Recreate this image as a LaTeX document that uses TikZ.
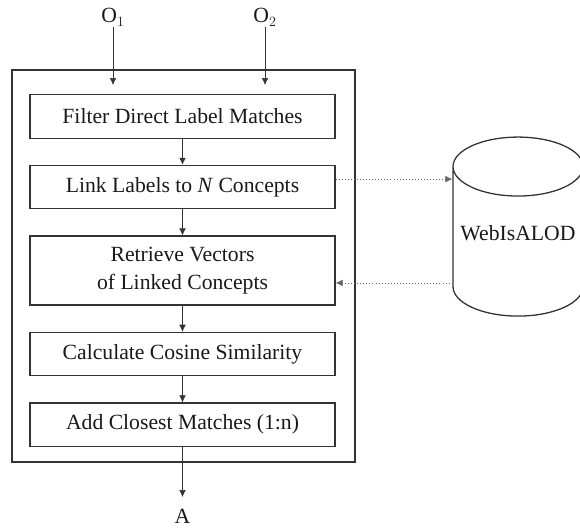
\documentclass[tikz,border=0pt]{standalone}
\usepackage{fontspec}
\setmainfont{Liberation Serif}
\usetikzlibrary{shapes.geometric, arrows.meta, positioning, calc}
\tikzset{
  stepbox/.style = {rectangle, draw=black!80, line width=1.1pt, minimum height=1.3cm, minimum width=9.15cm, align=center},
  frame/.style = {rectangle, draw=black!80, line width=1.1pt, minimum width=10.29cm, minimum height=11.76cm},
  store/.style = {cylinder, shape border rotate=90, aspect=0.48, draw=black!80, line width=1.1pt, fill=white, minimum width=3.9cm, minimum height=5.37cm},
  arrow/.style = {line width=0.6pt, draw=black!80, -{Latex[length=2.1mm, width=2mm]}},
  dotarrow/.style = {line width=0.6pt, draw=black!60, dotted, -{Latex[length=2.1mm, width=2mm]}}
}

\begin{document}
\begin{tikzpicture}[node distance=0.78cm, font=\fontsize{18.5}{24}\selectfont, text=black!90]
    \useasboundingbox (0,0) rectangle (17.4,-15.81);

    % Outer frame
    \node[frame] (frame) at (5.505,-7.98) {};

    % Inputs
    \node[inner sep=1pt] (o1) at (3.39,-0.52) {O$_1$};
    \node[inner sep=1pt] (o2) at (7.95,-0.52) {O$_2$};
    \coordinate (in1) at (3.39,-2.55);
    \coordinate (in2) at (7.95,-2.55);

    % Steps
    \node[stepbox] (filter) at (5.475,-3.495) {Filter Direct Label Matches};
    \node[stepbox, below=of filter] (link) {Link Labels to \textit{N} Concepts};
    \node[stepbox, below=of link, minimum height=2.07cm] (retrieve) {Retrieve Vectors\\of Linked Concepts};
    \node[stepbox, below=of retrieve] (cosine) {Calculate Cosine Similarity};
    \node[stepbox, below=of cosine] (add) {Add Closest Matches (1:n)};

    % Output
    \node[anchor=north, inner xsep=1pt, inner ysep=0.36cm] (answer) at (5.475,-14.91) {A};

    % Knowledge base
    \node[store] (db) at (15.54,-7.4) {\raisebox{0.84cm}{WebIsALOD}};

    % Arrows
    \draw[arrow] (o1) -- (in1);
    \draw[arrow] (o2) -- (in2);
    \draw[arrow] (filter) -- (link);
    \draw[arrow] (link) -- (retrieve);
    \draw[arrow] (retrieve) -- (cosine);
    \draw[arrow] (cosine) -- (add);
    \draw[arrow] (add) -- (answer);

    % Lookup
    \coordinate (l1) at ([yshift=2.4mm]link.east);
    \coordinate (r1) at ([yshift=-3.7mm]retrieve.east);
    \draw[dotarrow] (l1) -- (l1 -| db.west);
    \draw[dotarrow] (r1 -| db.west) -- (r1);

\end{tikzpicture}
\end{document}
